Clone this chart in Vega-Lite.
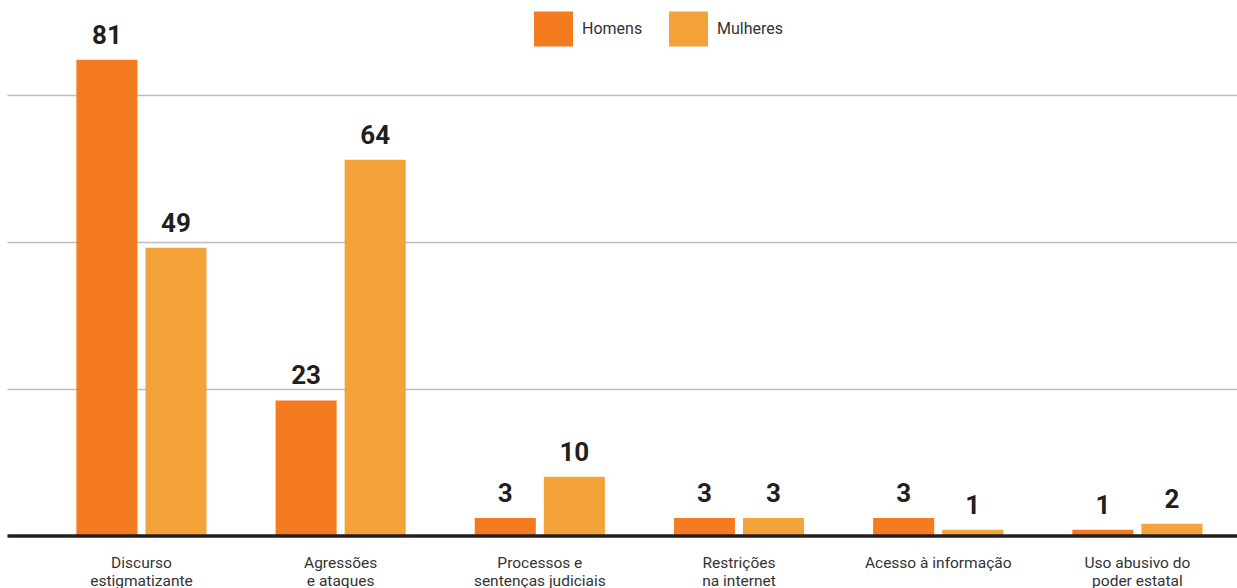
{
  "$schema": "https://vega.github.io/schema/vega-lite/v6.json",
  "width": 1230,
  "height": 528.5,
  "autosize": "none",
  "padding": {"left": 7, "top": 7, "right": 0, "bottom": 52.5},
  "config": {
    "view": {"stroke": null},
    "font": "Roboto"
  },
  "data": {
    "values": [
      {"categoria": "Discurso\nestigmatizante", "sexo": "Homens", "valor": 81},
      {"categoria": "Discurso\nestigmatizante", "sexo": "Mulheres", "valor": 49},
      {"categoria": "Agressões\ne ataques", "sexo": "Homens", "valor": 23},
      {"categoria": "Agressões\ne ataques", "sexo": "Mulheres", "valor": 64},
      {"categoria": "Processos e\nsentenças judiciais", "sexo": "Homens", "valor": 3},
      {"categoria": "Processos e\nsentenças judiciais", "sexo": "Mulheres", "valor": 10},
      {"categoria": "Restrições\nna internet", "sexo": "Homens", "valor": 3},
      {"categoria": "Restrições\nna internet", "sexo": "Mulheres", "valor": 3},
      {"categoria": "Acesso à informação", "sexo": "Homens", "valor": 3},
      {"categoria": "Acesso à informação", "sexo": "Mulheres", "valor": 1},
      {"categoria": "Uso abusivo do\npoder estatal", "sexo": "Homens", "valor": 1},
      {"categoria": "Uso abusivo do\npoder estatal", "sexo": "Mulheres", "valor": 2}
    ]
  },
  "encoding": {
    "x": {
      "field": "categoria",
      "type": "nominal",
      "sort": null,
      "scale": {"paddingInner": 0, "paddingOuter": 0.0875, "align": 1},
      "axis": {
        "title": null,
        "ticks": false,
        "labelAngle": 0,
        "labelExpr": "split(datum.label, '\\n')",
        "labelFontSize": 15.5,
        "labelColor": "#333333",
        "labelLineHeight": 18,
        "labelPadding": 20,
        "labelLimit": 300,
        "domainColor": "#231f20",
        "domainWidth": 3.5,
        "zindex": 1
      }
    },
    "xOffset": {
      "field": "sexo",
      "sort": ["Homens", "Mulheres"],
      "scale": {"paddingInner": 0.116, "paddingOuter": 0.5}
    },
    "y": {
      "field": "valor",
      "type": "quantitative",
      "scale": {"domain": [0, 90], "nice": false},
      "axis": {
        "title": null,
        "values": [25, 50, 75],
        "grid": true,
        "gridColor": "#bdbdc1",
        "gridWidth": 1.5,
        "domain": false,
        "ticks": false,
        "labels": false,
        "zindex": 0
      }
    }
  },
  "layer": [
    {
      "mark": {"type": "bar"},
      "encoding": {
        "color": {
          "field": "sexo",
          "type": "nominal",
          "scale": {"domain": ["Homens", "Mulheres"], "range": ["#f47b20", "#f4a33b"]},
          "legend": {
            "title": null,
            "orient": "none",
            "direction": "horizontal",
            "legendX": 527,
            "legendY": 2,
            "symbolType": "M-1,-0.9H1V0.9H-1Z",
            "symbolSize": 1521,
            "symbolStrokeWidth": 0,
            "symbolOpacity": 1,
            "labelFontSize": 16,
            "labelColor": "#333333",
            "labelOffset": 9,
            "columnPadding": 26
          }
        }
      }
    },
    {
      "mark": {
        "type": "text",
        "baseline": "alphabetic",
        "dy": -16,
        "fontSize": 26,
        "fontWeight": "bold",
        "fill": "#231f20"
      },
      "encoding": {
        "text": {"field": "valor", "type": "quantitative"}
      }
    }
  ]
}
